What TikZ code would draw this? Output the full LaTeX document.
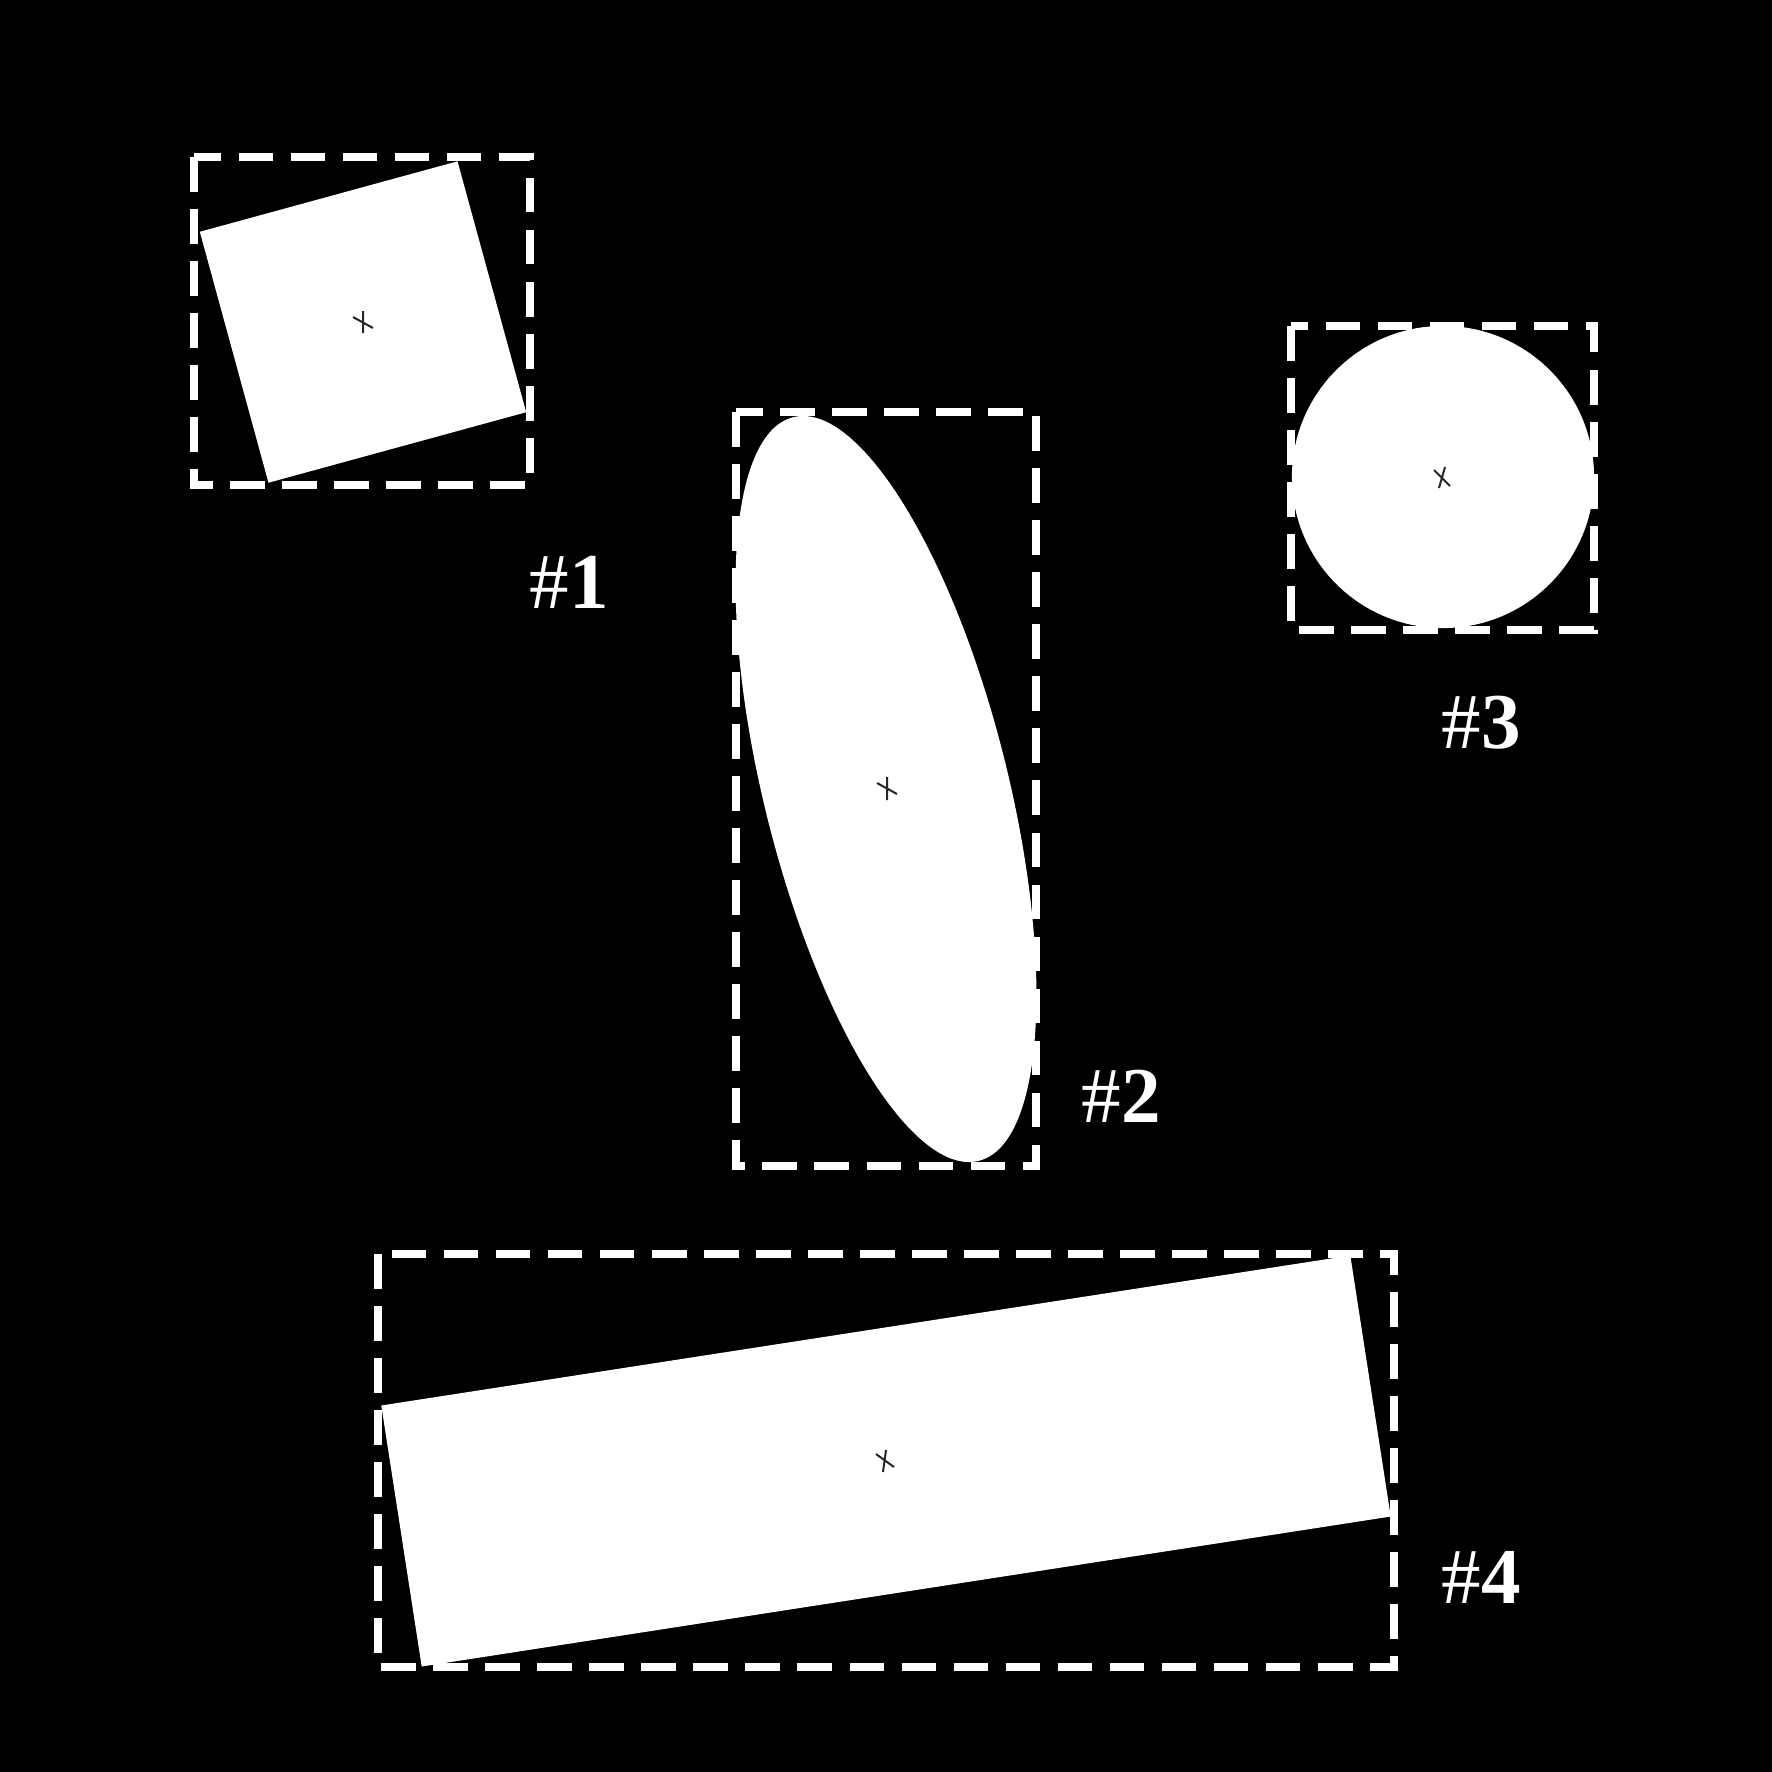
\documentclass[tikz,border=0pt]{standalone}
\usepackage{fontspec}
\setmainfont{Liberation Serif}
\usetikzlibrary{shapes.geometric}
\begin{document}
\begin{tikzpicture}[x=0.01cm,y=-0.01cm,
  bbox/.style={draw=white,line width=0.075cm,dash pattern=on 0.347cm off 0.173cm},
  shapefill/.style={fill=white,draw=none,inner sep=0pt,outer sep=0pt},
  centermark/.style={draw=black!85,line width=0.02cm},
  tag/.style={text=white,inner sep=0pt,anchor=base west,font=\fontsize{22.5}{27}\selectfont}]
\fill[black] (0,0) rectangle (1772,1772);
\useasboundingbox (0,0) rectangle (1772,1772);
% dashed bounding boxes
\draw[bbox] (194,157) rectangle (530,485);
\draw[bbox] (736,412) rectangle (1036,1166);
\draw[bbox] (1291,326) rectangle (1594,630);
\draw[bbox] (378,1254) rectangle (1394,1667);
% shapes
\node[shapefill,rectangle,rotate=15.3,minimum width=2.67cm,minimum height=2.60cm] (s1) at (363,322) {};
\node[shapefill,ellipse,rotate=14,minimum width=2.44cm,minimum height=7.66cm] (s2) at (886,789) {};
\node[shapefill,circle,minimum size=3.02cm] (s3) at (1443,477) {};
\node[shapefill,rectangle,rotate=8.8,minimum width=9.80cm,minimum height=2.64cm] (s4) at (886,1461) {};
% centre marks
\draw[centermark] (363,311) -- (363,333) (353,317) -- (373,328);
\draw[centermark] (887,777) -- (887,800) (877,783) -- (897,794);
\draw[centermark] (1445,467) -- (1439,488) (1434,470) -- (1450,486);
\draw[centermark] (886,1450) -- (883,1472) (876,1454) -- (894,1467);
% labels
\node[tag] (t1) at (529,608) {\#{\bfseries 1}};
\node[tag] (t2) at (1081,1122) {\#{\bfseries 2}};
\node[tag] (t3) at (1441,748) {\#{\bfseries 3}};
\node[tag] (t4) at (1441,1603) {\#{\bfseries 4}};
\end{tikzpicture}
\end{document}
